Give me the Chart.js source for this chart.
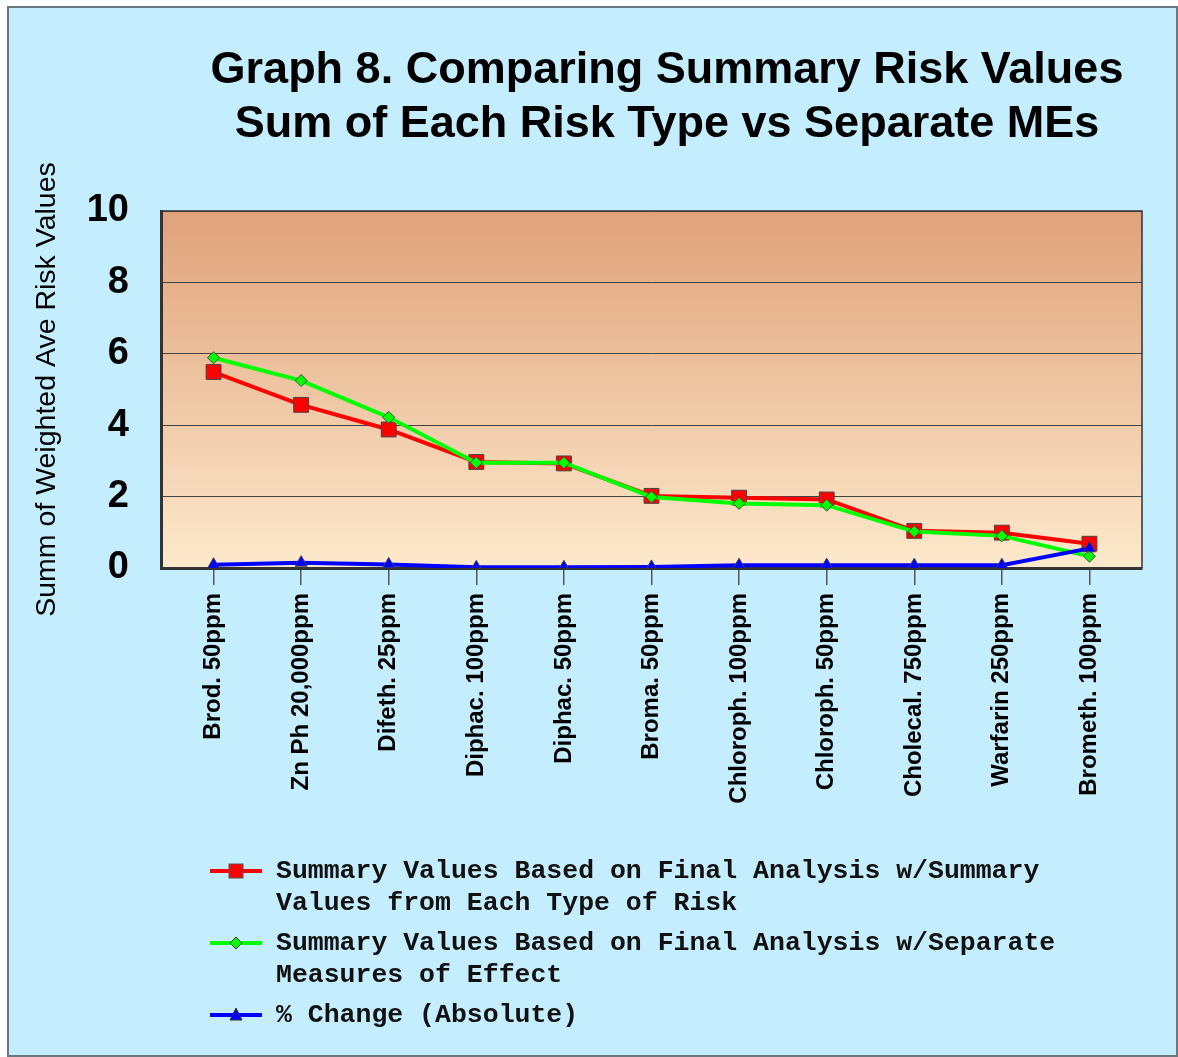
<!DOCTYPE html>
<html>
<head>
<meta charset="utf-8">
<script src="https://cdn.jsdelivr.net/npm/chart.js@4"></script>
<style>
  html, body { margin: 0; padding: 0; background: #ffffff; }
  #wrap { position: relative; width: 1178px; height: 1057px; overflow: hidden; }
  #frame { position: absolute; left: 7px; top: 6px; width: 1167px; height: 1047px; border: 2px solid #6b777d; background: #c4edfe; }
  #chart { position: absolute; left: 0; top: 0; }
  #title { position: absolute; left: 167px; top: 41px; width: 1000px; text-align: center;
           font-family: "Liberation Sans", Arial, sans-serif; font-weight: bold; font-size: 45px; line-height: 54px; color: #000; }
  #legend { position: absolute; left: 210px; top: 855px; font-family: "Liberation Mono", "Courier New", monospace;
            font-weight: bold; font-size: 26.5px; line-height: 32px; color: #111; }
  .item { display: flex; align-items: flex-start; margin-bottom: 8px; }
  .item svg { flex: 0 0 auto; margin-right: 14px; }
  .item span { display: block; max-width: 820px; }
</style>
</head>
<body>
<div id="wrap">
  <div id="frame"></div>
  <canvas id="chart" width="1178" height="1057"></canvas>
  <div id="title"></div>
  <div id="legend"></div>
</div>
<script>
const titleLines = ["Graph 8. Comparing Summary Risk Values", "Sum of Each Risk Type vs Separate MEs"];
const yAxisTitle = "Summ of Weighted Ave Risk Values";
const categories = ["Brod. 50ppm", "Zn Ph 20,000ppm", "Difeth. 25ppm", "Diphac. 100ppm", "Diphac. 50ppm",
  "Broma. 50ppm", "Chloroph. 100ppm", "Chloroph. 50ppm", "Cholecal. 750ppm", "Warfarin 250ppm", "Brometh. 100ppm"];
const seriesNames = ["Summary Values Based on Final Analysis w/Summary Values from Each Type of Risk",
  "Summary Values Based on Final Analysis w/Separate Measures of Effect",
  "% Change (Absolute)"];
const summaryValues = [5.49, 4.57, 3.88, 2.97, 2.93, 2.02, 1.97, 1.92, 1.04, 0.99, 0.68];
const separateValues = [5.89, 5.25, 4.22, 2.95, 2.95, 1.99, 1.81, 1.76, 1.02, 0.90, 0.33];
const changeValues = [0.09, 0.15, 0.10, 0.02, 0.02, 0.03, 0.08, 0.08, 0.08, 0.08, 0.55];
const yTicks = [0, 2, 4, 6, 8, 10];

const colors = ["#ff0000", "#00ff00", "#0000ff"];
const styles = ["rect", "rectRot", "triangle"];
const radii = [10.5, 6, 7];

document.getElementById('title').innerHTML = titleLines.map(t => '<div>' + t + '</div>').join('');

// HTML legend
const legend = document.getElementById('legend');
seriesNames.forEach((name, i) => {
  const d = document.createElement('div');
  d.className = 'item';
  let marker;
  if (i === 0) marker = '<rect x="19" y="9" width="14" height="14" fill="#ff0000" stroke="#555" stroke-width="1"/>';
  else if (i === 1) marker = '<polygon points="26,10 32,16 26,22 20,16" fill="#00ff00" stroke="#333" stroke-width="1"/>';
  else marker = '<polygon points="26,9 32,21 20,21" fill="#0000ff" stroke="#333" stroke-width="1"/>';
  d.innerHTML = '<svg width="52" height="32"><line x1="0" y1="16" x2="52" y2="16" stroke="' + colors[i] + '" stroke-width="4"/>' + marker + '</svg><span>' + name + '</span>';
  legend.appendChild(d);
});

const bgPlugin = {
  id: 'plotBg',
  beforeDraw(chart) {
    const { ctx, chartArea: a } = chart;
    const g = ctx.createLinearGradient(0, a.top, 0, a.bottom);
    g.addColorStop(0, '#e0a27a');
    g.addColorStop(1, '#fde9cc');
    ctx.save();
    ctx.fillStyle = g;
    ctx.fillRect(a.left, a.top, a.right - a.left, a.bottom - a.top);
    ctx.restore();
  },
  beforeDatasetsDraw(chart) {
    const { ctx, chartArea: a } = chart;
    ctx.save();
    ctx.strokeStyle = '#333';
    ctx.lineWidth = 1.5;
    ctx.beginPath();
    ctx.moveTo(a.left, a.top);
    ctx.lineTo(a.right, a.top);
    ctx.lineTo(a.right, a.bottom);
    ctx.stroke();
    ctx.restore();
  }
};

const datasets = [summaryValues, separateValues, changeValues].map((vals, i) => ({
  label: seriesNames[i],
  data: vals.map((v, k) => ({ x: k, y: v })),
  borderColor: colors[i],
  backgroundColor: colors[i],
  borderWidth: 4,
  pointStyle: styles[i],
  pointRadius: radii[i],
  pointHoverRadius: radii[i],
  pointBorderColor: '#444',
  pointBorderWidth: 1,
  tension: 0,
  order: 3 - i
}));

new Chart(document.getElementById('chart'), {
  type: 'line',
  data: { datasets },
  plugins: [bgPlugin],
  options: {
    responsive: false,
    animation: false,
    events: [],
    layout: { padding: { left: 0, top: 211, right: 36, bottom: 0 } },
    plugins: { legend: { display: false }, title: { display: false }, tooltip: { enabled: false } },
    scales: {
      x: {
        type: 'linear',
        min: -0.6,
        max: 10.6,
        afterBuildTicks: (s) => { s.ticks = categories.map((c, i) => ({ value: i })); },
        afterFit: (s) => { s.height = 1057 - 568; },
        ticks: {
          autoSkip: false,
          minRotation: 90,
          maxRotation: 90,
          padding: 8,
          color: '#000',
          font: { family: '"Liberation Sans", Arial, sans-serif', weight: 'bold', size: 24 },
          callback: (v) => categories[v]
        },
        grid: { drawOnChartArea: false, drawTicks: true, tickLength: 17, color: '#555', lineWidth: 1.5 },
        border: { display: true, color: '#333', width: 3 }
      },
      y: {
        min: 0,
        max: 10,
        afterBuildTicks: (s) => { s.ticks = yTicks.map(v => ({ value: v })); },
        afterFit: (s) => { s.width = 161; },
        ticks: {
          padding: 32,
          color: '#000',
          font: { family: '"Liberation Sans", Arial, sans-serif', weight: 'bold', size: 38 }
        },
        grid: { color: '#444', lineWidth: 1, drawTicks: false },
        border: { display: true, color: '#333', width: 3 },
        title: {
          display: true,
          text: yAxisTitle,
          color: '#000',
          font: { family: '"Liberation Sans", Arial, sans-serif', size: 28.5 },
          padding: { top: 30, bottom: 0 }
        }
      }
    }
  }
});
</script>
</body>
</html>
